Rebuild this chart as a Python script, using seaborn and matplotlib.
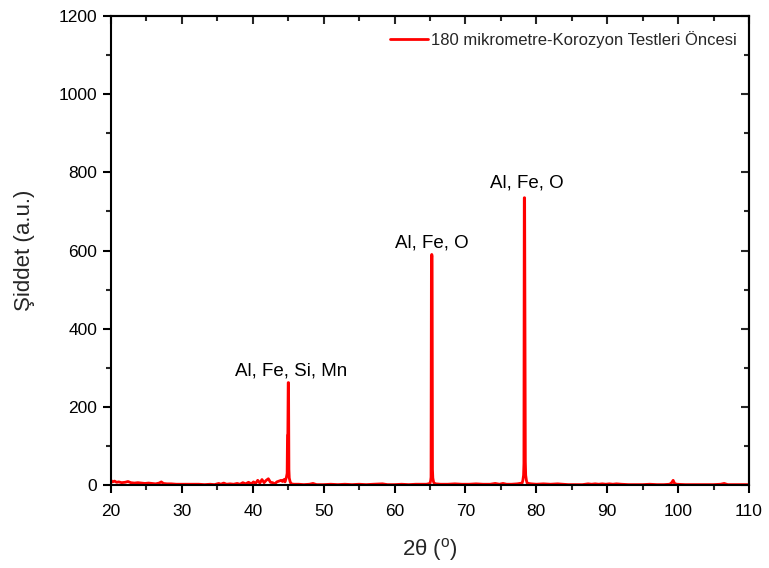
import matplotlib
matplotlib.use("Agg")
import matplotlib.pyplot as plt
from matplotlib.ticker import MultipleLocator, NullFormatter
import numpy as np
import pandas as pd
import seaborn as sns

# XRD pattern: 2-theta (deg) and intensity (a.u.)
two_theta = [
    20.0, 20.2, 20.5, 20.8, 21.1, 21.5, 22.0, 22.4, 22.8, 23.3, 23.8, 24.3, 24.8,
    25.3, 25.8, 26.3, 26.8, 27.1, 27.4, 27.9, 28.5, 29.2, 30.0, 30.8, 31.6, 32.4,
    33.2, 34.0, 34.6, 35.2, 35.5, 35.9, 36.3, 36.8, 37.3, 37.8, 38.2, 38.6, 39.0,
    39.4, 39.8, 40.1, 40.4, 40.7, 41.0, 41.3, 41.6, 41.9, 42.2, 42.5, 42.8, 43.1,
    43.4, 43.7, 44.0, 44.2, 44.4,
    44.55, 44.65, 44.75, 44.85, 44.9, 44.95, 45.0, 45.05, 45.1, 45.15, 45.25, 45.35,
    45.45, 45.8, 46.5, 47.2, 48.0, 48.5, 49.0, 50.0, 51.0, 52.0, 53.0, 54.0, 55.0,
    56.0, 57.0, 58.3, 59.0, 60.0, 61.0, 62.0, 63.0, 64.0, 64.5,
    65.0, 65.1, 65.15, 65.2, 65.25, 65.3, 65.35, 65.4, 65.5, 65.6,
    65.8, 66.5, 67.5, 68.5, 69.5, 70.5, 71.5, 72.5, 73.5, 74.2, 74.8, 75.3, 75.8,
    76.5, 77.3,
    78.0, 78.1, 78.2, 78.25, 78.3, 78.35, 78.4, 78.45, 78.5, 78.6, 78.7,
    78.9, 79.3, 80.0, 81.0, 82.0, 83.0, 83.8, 84.5, 85.5, 86.5, 87.3, 87.8, 88.3,
    88.8, 89.3, 89.8, 90.3, 90.8, 91.3, 92.0, 93.0, 94.0, 95.0, 96.0, 97.0, 98.0,
    98.8, 99.1, 99.3, 99.5, 99.8, 101.0, 102.0, 103.0, 104.0, 105.0, 106.0, 106.5,
    107.0, 108.0, 109.0, 110.0,
]
intensity = [
    12, 8, 10, 7, 8, 6, 7, 9, 6, 5, 6, 5, 4,
    5, 4, 3, 5, 8, 4, 3, 3, 2, 2, 2, 2, 2,
    1, 2, 1, 4, 2, 5, 2, 3, 2, 4, 2, 6, 3,
    7, 3, 8, 4, 12, 5, 14, 6, 12, 16, 7, 6, 3,
    8, 10, 12, 9, 14,
    8, 14, 20, 30, 128, 130, 262, 262, 40, 18, 10, 5,
    3, 2, 2, 1, 2, 4, 1, 1, 2, 1, 2, 1, 2,
    1, 2, 3, 1, 1, 2, 1, 2, 2, 2,
    4, 12, 20, 570, 590, 585, 40, 18, 8, 4,
    3, 2, 2, 3, 2, 2, 3, 2, 2, 4, 2, 4, 2,
    2, 3,
    5, 12, 25, 55, 735, 735, 350, 60, 25, 12, 5,
    4, 3, 2, 3, 2, 3, 2, 1, 1, 1, 3, 2, 3,
    2, 3, 2, 3, 2, 3, 2, 1, 1, 1, 2, 1, 1,
    2, 6, 12, 4, 2, 1, 1, 1, 1, 1, 2, 4,
    1, 1, 1, 1,
]

series_label = "180 mikrometre-Korozyon Testleri Öncesi"

# Phase annotations: (2-theta, intensity of text baseline, text)
peak_labels = ["Al, Fe, Si, Mn", "Al, Fe, O", "Al, Fe, O"]
peak_label_x = [45.4, 65.2, 78.6]
peak_label_y = [281, 608, 762]

sns.set_style("ticks")
plt.rcParams["font.family"] = ["Liberation Sans", "DejaVu Sans"]
plt.rcParams["mathtext.fontset"] = "custom"
plt.rcParams["mathtext.rm"] = "Liberation Sans"
plt.rcParams["mathtext.it"] = "Liberation Sans:italic"

df = pd.DataFrame({"two_theta": two_theta, "intensity": intensity})

fig = plt.figure(figsize=(7.69, 5.68), dpi=100)
ax = fig.add_axes([0.1443, 0.1461, 0.8297, 0.8257])

sns.lineplot(data=df, x="two_theta", y="intensity", ax=ax, estimator=None,
             sort=False, color="#ff0000", linewidth=2.0, label=series_label)

ax.set_xlim(20, 110)
ax.set_ylim(0, 1200)
ax.xaxis.set_major_locator(MultipleLocator(10))
ax.xaxis.set_minor_locator(MultipleLocator(5))
ax.yaxis.set_major_locator(MultipleLocator(200))
ax.yaxis.set_minor_locator(MultipleLocator(100))

for sp in ax.spines.values():
    sp.set_visible(True)
    sp.set_linewidth(1.5)
    sp.set_color("black")

ax.tick_params(which="major", direction="out", length=6, width=1.5,
               labelsize=12.5, colors="black")
ax.tick_params(axis="x", which="major", pad=8)
ax.tick_params(axis="y", which="major", pad=4)
ax.tick_params(which="minor", direction="out", length=3.5, width=1.5)

# inward ticks on the top and right edges
top = ax.secondary_xaxis("top")
top.xaxis.set_major_locator(MultipleLocator(10))
top.xaxis.set_minor_locator(MultipleLocator(5))
top.xaxis.set_major_formatter(NullFormatter())
top.tick_params(which="major", direction="in", length=6, width=1.5)
top.tick_params(which="minor", direction="in", length=3.5, width=1.5)
top.spines["top"].set_linewidth(1.5)

right = ax.secondary_yaxis("right")
right.yaxis.set_major_locator(MultipleLocator(200))
right.yaxis.set_minor_locator(MultipleLocator(100))
right.yaxis.set_major_formatter(NullFormatter())
right.tick_params(which="major", direction="in", length=6, width=1.5)
right.tick_params(which="minor", direction="in", length=3.5, width=1.5)
right.spines["right"].set_linewidth(1.5)

ax.set_xlabel("2θ ($^\\mathregular{o}$)", fontsize=16, labelpad=12)
ax.set_ylabel("Şiddet (a.u.)", fontsize=16, labelpad=17)

for x, y, t in zip(peak_label_x, peak_label_y, peak_labels):
    ax.text(x, y, t, ha="center", va="baseline", fontsize=13.5, color="black")

leg = ax.legend(loc="upper right", bbox_to_anchor=(0.992, 0.982), frameon=False,
                fontsize=12, handlelength=2.3, handletextpad=0.2,
                borderaxespad=0.0)

fig.savefig("out.png", dpi=100)
